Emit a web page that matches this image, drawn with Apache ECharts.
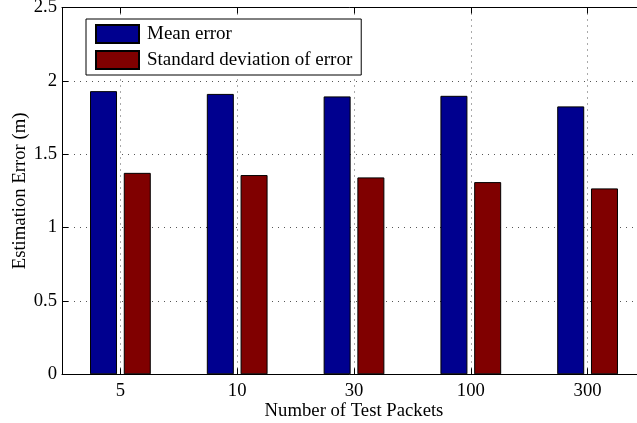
<!DOCTYPE html>
<html>
<head>
<meta charset="utf-8">
<script src="https://cdn.jsdelivr.net/npm/echarts@6/dist/echarts.min.js"></script>
<style>
html,body{margin:0;padding:0;background:#fff;}
#chart{width:637px;height:423px;}
</style>
</head>
<body>
<div id="chart"></div>
<script>
var categories = ['5', '10', '30', '100', '300'];
var meanError = [1.93, 1.911, 1.894, 1.898, 1.826];
var stdError = [1.373, 1.358, 1.342, 1.310, 1.267];
var seriesNames = ['Mean error', 'Standard deviation of error'];
var yTicks = [0, 0.5, 1, 1.5, 2, 2.5];

var FONT = "'Liberation Serif', 'Times New Roman', serif";
var FS = 18.7;
var chart = echarts.init(document.getElementById('chart'), null, {renderer: 'canvas'});
var gridStyle = {color: '#555', width: 1, type: [1, 5]};
var option = {
  animation: false,
  backgroundColor: '#fff',
  textStyle: {fontFamily: FONT, color: '#000'},
  grid: {left: 62, right: -9, top: 7.5, bottom: 48.7, containLabel: false, outerBoundsMode: 'none'},
  legend: {
    orient: 'vertical',
    left: 86, top: 19,
    padding: [5, 9, 5, 9],
    itemGap: 6,
    itemWidth: 43, itemHeight: 18,
    borderColor: '#000', borderWidth: 1,
    backgroundColor: '#fff',
    textStyle: {fontFamily: FONT, fontSize: 19, color: '#000', padding: [0, 0, 0, 3]},
    icon: 'rect',
    data: seriesNames
  },
  xAxis: [{
    type: 'category',
    data: categories,
    position: 'bottom',
    name: 'Number of Test Packets',
    nameLocation: 'middle',
    nameGap: 27,
    nameMoveOverlap: false,
    nameTextStyle: {fontFamily: FONT, fontSize: FS, color: '#000'},
    axisLine: {show: true, lineStyle: {color: '#000', width: 1}},
    axisTick: {show: true, inside: true, alignWithLabel: true, length: 6, lineStyle: {color: '#000'}},
    axisLabel: {fontFamily: FONT, fontSize: FS, color: '#000', margin: 7},
    splitLine: {show: true, alignWithLabel: true, lineStyle: gridStyle}
  }, {
    type: 'category',
    data: categories,
    position: 'top',
    axisLine: {show: true, lineStyle: {color: '#000', width: 1}},
    axisTick: {show: true, inside: true, alignWithLabel: true, length: 6, lineStyle: {color: '#000'}},
    axisLabel: {show: false},
    splitLine: {show: false}
  }],
  yAxis: {
    type: 'value',
    min: 0, max: 2.5, interval: 0.5,
    name: 'Estimation Error (m)',
    nameLocation: 'middle',
    nameGap: 32,
    nameMoveOverlap: false,
    nameTextStyle: {fontFamily: FONT, fontSize: FS, color: '#000'},
    axisLine: {show: true, lineStyle: {color: '#000', width: 1}},
    axisTick: {show: true, inside: true, length: 6, lineStyle: {color: '#000'}},
    axisLabel: {fontFamily: FONT, fontSize: FS, color: '#000', margin: 5,
      formatter: function (v) { return yTicks.indexOf(v) >= 0 ? String(v) : ''; }},
    splitLine: {show: true, lineStyle: gridStyle}
  },
  series: [{
    name: seriesNames[0],
    type: 'bar',
    data: meanError,
    barWidth: 27,
    barGap: '25%',
    itemStyle: {color: '#00008F', borderColor: '#000', borderWidth: 1}
  }, {
    name: seriesNames[1],
    type: 'bar',
    data: stdError,
    barWidth: 27,
    barGap: '25%',
    itemStyle: {color: '#800000', borderColor: '#000', borderWidth: 1}
  }]
};
chart.setOption(option);
</script>
</body>
</html>
